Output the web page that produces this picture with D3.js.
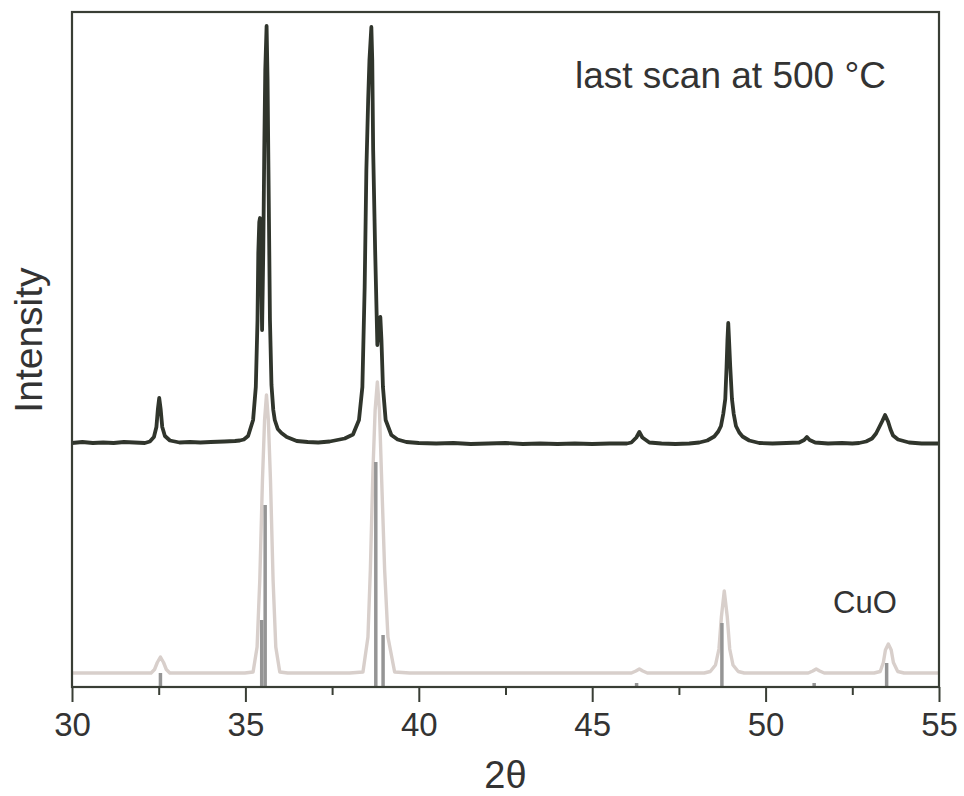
<!DOCTYPE html>
<html>
<head>
<meta charset="utf-8">
<script src="https://cdn.jsdelivr.net/npm/d3@7"></script>
<style>
  body { margin: 0; background: #fff; }
  svg text { font-family: "Liberation Sans", Arial, sans-serif; fill: #333; }
</style>
</head>
<body>
<svg id="chart" width="964" height="796"></svg>
<script>
// measured scan, 2theta / intensity (a.u.)
var scanTheta = [30.0, 30.3, 30.6, 30.9, 31.2, 31.5, 31.8, 32.1, 32.246, 32.362, 32.434, 32.477, 32.515, 32.556, 32.602, 32.679, 32.823,
  33.1, 33.4, 33.7, 34.0, 34.4, 34.7, 34.839, 34.954, 35.078, 35.222, 35.300, 35.349, 35.372, 35.400, 35.420, 35.444, 35.481,
  35.516, 35.544, 35.573, 35.611, 35.639, 35.665, 35.688, 35.708, 35.752, 35.804, 35.847, 35.933, 36.040, 36.193, 36.480,
  36.8, 37.1, 37.431, 37.863, 38.102, 38.275, 38.373, 38.439, 38.488, 38.540, 38.577, 38.632, 38.658, 38.684, 38.741, 38.805,
  38.842, 38.891, 38.923, 38.966, 39.044, 39.208, 39.389, 39.640, 40.0, 40.5, 41.0, 41.5, 42.0, 42.5, 43.0, 43.5, 44.0, 44.5,
  45.0, 45.5, 46.0, 46.129, 46.273, 46.359, 46.446, 46.647, 47.0, 47.4, 47.8, 48.088, 48.318, 48.520, 48.635, 48.713, 48.779,
  48.837, 48.874, 48.900, 48.923, 48.946, 48.981, 49.030, 49.081, 49.145, 49.240, 49.335, 49.528, 49.816, 50.2, 50.6, 50.968,
  51.112, 51.190, 51.270, 51.429, 51.8, 52.2, 52.5, 52.696, 52.898, 53.070, 53.185, 53.272, 53.358, 53.445, 53.531, 53.603,
  53.675, 53.819, 54.136, 54.5, 55.0];
var scanCounts = [2440, 2450, 2440, 2445, 2440, 2450, 2445, 2440, 2455, 2500, 2600, 2780, 2890, 2780, 2600, 2510, 2465,
  2445, 2450, 2445, 2450, 2455, 2460, 2465, 2475, 2510, 2670, 3000, 3670, 4340, 4650, 4690, 4470, 3570,
  4370, 5370, 6170, 6610, 6070, 5170, 4370, 3670, 3020, 2770, 2670, 2580, 2540, 2500, 2460,
  2450, 2445, 2455, 2485, 2525, 2670, 3000, 4000, 5170, 5870, 6270, 6600, 6270, 5370, 4370, 3420,
  3570, 3700, 3470, 3000, 2670, 2520, 2475, 2450, 2440, 2435, 2440, 2430, 2435, 2440, 2430, 2435, 2430, 2435,
  2430, 2435, 2435, 2445, 2495, 2550, 2495, 2445, 2435, 2430, 2435, 2445, 2465, 2505, 2555, 2610, 2730,
  2880, 3200, 3470, 3640, 3470, 3200, 2880, 2730, 2610, 2545, 2505, 2465, 2440, 2435, 2440, 2445,
  2470, 2500, 2470, 2445, 2435, 2440, 2435, 2440, 2455, 2485, 2535, 2595, 2655, 2720, 2655, 2575,
  2515, 2475, 2445, 2435, 2435];

// reference CuO profile
var refTheta = [30.0, 32.28, 32.38, 32.46, 32.55, 32.64, 32.72, 32.82, 34.983, 35.222, 35.337, 35.415, 35.492, 35.553, 35.608,
  35.662, 35.723, 35.798, 35.876, 35.991, 36.221, 38.007, 38.390, 38.534, 38.603, 38.678, 38.741, 38.805, 38.865, 38.920,
  39.015, 39.110, 39.303, 39.735, 46.13, 46.26, 46.36, 46.46, 46.59, 48.232, 48.405, 48.555, 48.655, 48.725, 48.808, 48.895,
  48.965, 49.060, 49.210, 49.384, 51.23, 51.36, 51.46, 51.56, 51.69, 53.128, 53.305, 53.395, 53.455, 53.539, 53.622, 53.685,
  53.810, 53.992, 55.0];
var refCounts = [140, 140, 175, 245, 300, 245, 175, 140, 140, 150, 400, 1070, 2070, 2670, 2920,
  2670, 2070, 1070, 400, 150, 140, 140, 150, 500, 1170, 2170, 2770, 3050, 2770, 2170,
  1170, 500, 150, 140, 140, 160, 180, 160, 140, 140, 155, 220, 380, 700, 960, 700,
  380, 220, 155, 140, 140, 160, 180, 160, 140, 140, 155, 245, 370, 430, 370, 245,
  155, 140, 140];

// CuO reference lines
var stickTheta = [32.55, 35.47, 35.57, 38.76, 38.97, 46.28, 48.74, 51.40, 53.49];
var stickCounts = [140, 670, 1820, 2250, 520, 40, 640, 40, 240];

var majorTicks = [30, 35, 40, 45, 50, 55];
var minorTicks = [32.5, 37.5, 42.5, 47.5, 52.5];

var svg = d3.select("#chart"),
    plotL = 72, plotR = 939, plotT = 12, plotB = 687;

var x = d3.scaleLinear().domain([30, 55]).range([plotL, plotR]);
var y = d3.scaleLinear().domain([0, 6750]).range([plotB, plotT]);

var scan = scanTheta.map(function(t, i) { return [t, scanCounts[i]]; });
var ref = refTheta.map(function(t, i) { return [t, refCounts[i]]; });
var sticks = stickTheta.map(function(t, i) { return [t, stickCounts[i]]; });

var line = d3.line()
    .x(function(d) { return x(d[0]); })
    .y(function(d) { return y(d[1]); });

svg.append("path")
    .datum(ref)
    .attr("d", line)
    .attr("fill", "none")
    .attr("stroke", "#d8cfcb")
    .attr("stroke-width", 3.4)
    .attr("stroke-linejoin", "round");

svg.append("g")
    .selectAll("line")
    .data(sticks)
    .enter().append("line")
    .attr("x1", function(d) { return x(d[0]); })
    .attr("x2", function(d) { return x(d[0]); })
    .attr("y1", y(0))
    .attr("y2", function(d) { return y(d[1]); })
    .attr("stroke", "#959595")
    .attr("stroke-width", 3.5);

svg.append("path")
    .datum(scan)
    .attr("d", line)
    .attr("fill", "none")
    .attr("stroke", "#30352c")
    .attr("stroke-width", 3.8)
    .attr("stroke-linejoin", "round");

// frame
svg.append("rect")
    .attr("x", plotL).attr("y", plotT)
    .attr("width", plotR - plotL).attr("height", plotB - plotT)
    .attr("fill", "none")
    .attr("stroke", "#393e35")
    .attr("stroke-width", 2.2);

var xAxis = svg.append("g")
    .attr("transform", "translate(0," + plotB + ")")
    .call(d3.axisBottom(x).tickValues(majorTicks).tickSize(15).tickPadding(11).tickFormat(d3.format("d")));
xAxis.select(".domain").remove();
xAxis.selectAll("line").attr("stroke", "#393e35").attr("stroke-width", 2);
xAxis.selectAll("text").style("font-size", "33px").attr("fill", "#333");

var xMinor = svg.append("g")
    .attr("transform", "translate(0," + plotB + ")")
    .call(d3.axisBottom(x).tickValues(minorTicks).tickSize(8).tickFormat(""));
xMinor.select(".domain").remove();
xMinor.selectAll("line").attr("stroke", "#393e35").attr("stroke-width", 2);

svg.append("text")
    .attr("x", (plotL + plotR) / 2)
    .attr("y", 788)
    .attr("text-anchor", "middle")
    .style("font-size", "38px")
    .text("2θ");

svg.append("text")
    .attr("transform", "translate(42,340) rotate(-90)")
    .attr("text-anchor", "middle")
    .style("font-size", "39px")
    .text("Intensity");

svg.append("text")
    .attr("x", 575)
    .attr("y", 88)
    .style("font-size", "37px")
    .text("last scan at 500 °C");

svg.append("text")
    .attr("x", 833)
    .attr("y", 613)
    .style("font-size", "31px")
    .text("CuO");
</script>
</body>
</html>
